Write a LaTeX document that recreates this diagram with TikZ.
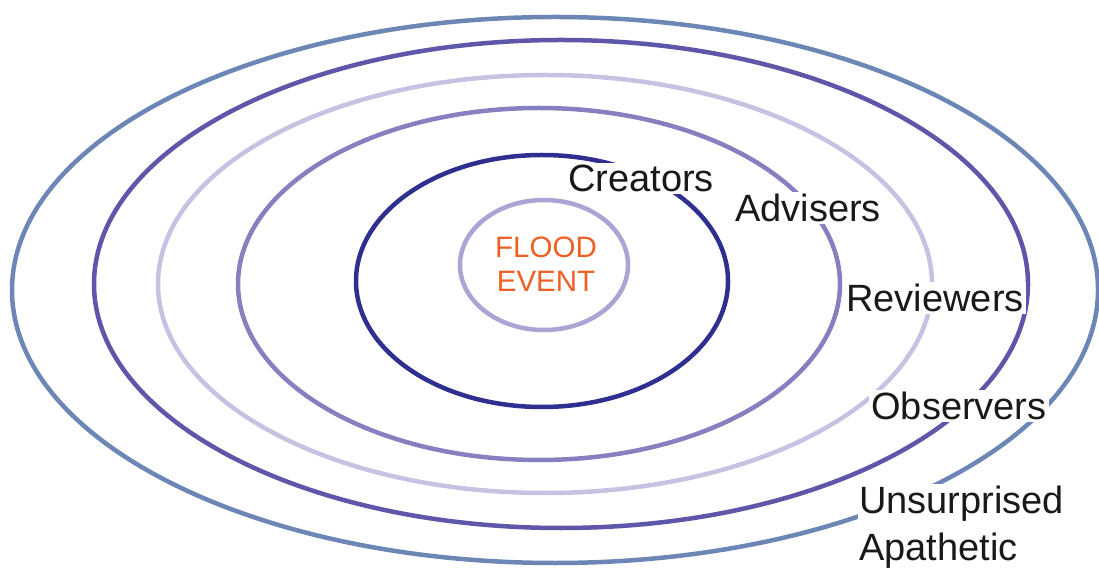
\documentclass[tikz,border=0pt]{standalone}
\usepackage{fontspec}
\setmainfont{Liberation Sans}
\usepackage{tikz}
\usetikzlibrary{positioning}

\definecolor{ringsteel}{HTML}{6C87B5}
\definecolor{ringpurple}{HTML}{5E57A9}
\definecolor{ringpale}{HTML}{C6C3E2}
\definecolor{ringmid}{HTML}{8780C0}
\definecolor{ringnavy}{HTML}{2F2F90}
\definecolor{ringcore}{HTML}{A9A5D5}
\definecolor{floodorange}{HTML}{EE5F23}

\begin{document}
\begin{tikzpicture}[
x=1pt, y=1pt,
    ring/.style = {draw=#1, line width=4.5pt},
    ringlabel/.style = {fill=white, inner sep=2pt, text=black!90,
        font=\fontsize{38}{47}\selectfont},
    corelabel/.style = {align=center, text=floodorange,
        font=\fontsize{29.5}{34}\selectfont},
]
\useasboundingbox (0,0) rectangle (1099,570);

% rings, outside in
\draw[ring=ringsteel]  (555,280) ellipse [x radius=543, y radius=273];
\draw[ring=ringpurple] (561,286) ellipse [x radius=467, y radius=244];
\draw[ring=ringpale]   (545,286) ellipse [x radius=387, y radius=209];
\draw[ring=ringmid]    (539,286) ellipse [x radius=301, y radius=176];
\draw[ring=ringnavy]   (542,289) ellipse [x radius=186, y radius=126];
\draw[ring=ringcore]   (544,305) ellipse [x radius=84, y radius=65];

% base of a two-line node is the last line
\node[corelabel, anchor=base] (flood) at (546,278) {FLOOD\\EVENT};

% labels sit on the rings and cut them
\node[ringlabel, anchor=base] (creators)  at (641,378) {Creators};
\node[ringlabel, anchor=base] (advisers)  at (808,348) {Advisers};
\node[ringlabel, anchor=base] (reviewers) at (935,258) {Reviewers};
\node[ringlabel, anchor=base] (observers) at (959,150) {Observers};
\node[ringlabel, anchor=base west, align=left, inner sep=1pt] (outer) at (858,10) {Unsurprised\\Apathetic};

\end{tikzpicture}
\end{document}
